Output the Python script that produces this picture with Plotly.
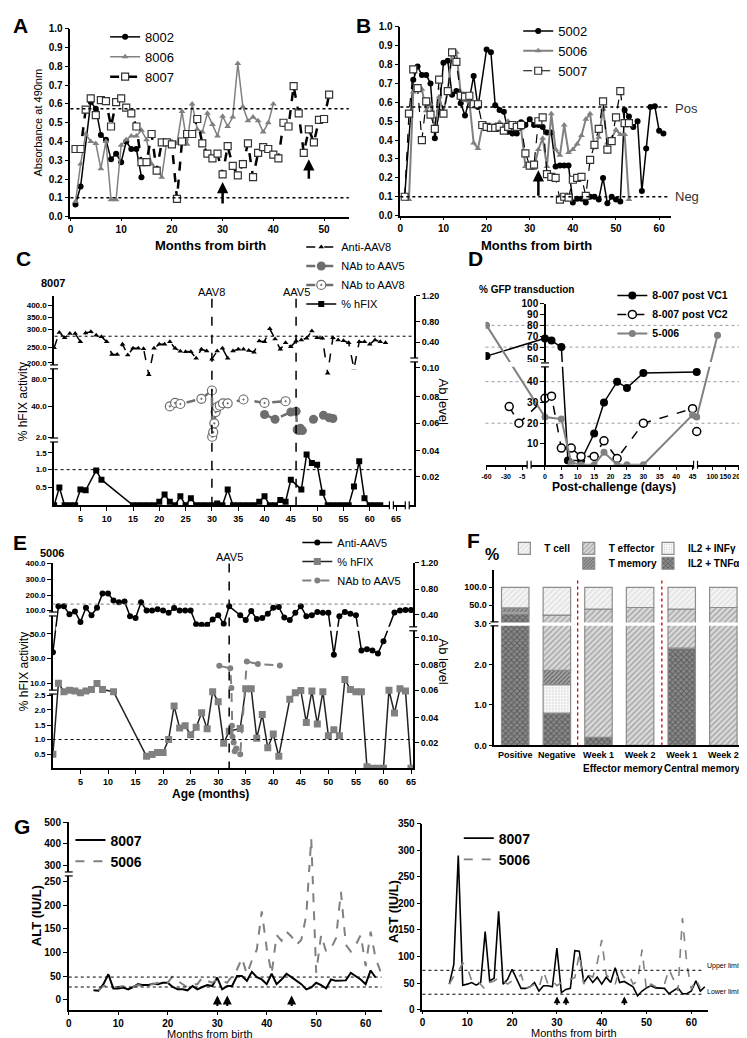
import numpy as np
import plotly.graph_objects as go

W, H = 747, 1038
FONT = "Liberation Sans, Arial, sans-serif"
GRAY = "#808080"

# ---------------- DATA ----------------
# Panel A (absorbance)
A_8002_m = [1, 2, 4, 5, 6, 7, 8, 9, 10, 11, 12, 13, 14]
A_8002_v = [0.065, 0.16, 0.61, 0.575, 0.435, 0.41, 0.305, 0.335, 0.29, 0.40, 0.36, 0.36, 0.21]
A_8006_m = list(range(1, 41))
A_8006_v = [0.08, 0.28, 0.44, 0.40, 0.39, 0.255, 0.40, 0.09, 0.09, 0.38,
            0.41, 0.43, 0.43, 0.46, 0.41, 0.28, 0.255, 0.21, 0.40, 0.40,
            0.39, 0.56, 0.385, 0.60, 0.465, 0.45, 0.55, 0.49, 0.43, 0.535,
            0.48, 0.53, 0.815, 0.585, 0.51, 0.53, 0.51, 0.45, 0.50, 0.60]
A_8007_m = list(range(1, 52))
A_8007_v = [0.36, 0.36, 0.57, 0.63, 0.54, 0.62, 0.615, 0.48, 0.61, 0.63,
            0.58, 0.55, 0.48, 0.29, 0.29, 0.44, 0.245, 0.395, 0.395, 0.385,
            0.095, 0.40, 0.44, 0.44, 0.52, 0.39, 0.335, 0.31, 0.335, 0.225,
            0.375, 0.27, 0.22, 0.28, 0.39, 0.21, 0.34, 0.37, 0.36, 0.33,
            0.31, 0.50, 0.48, 0.695, 0.55, 0.34, 0.465, 0.395, 0.515, 0.52, 0.65]
A_arrows = [30, 47]

# Panel B
B_5002_m = [1] + list(range(3, 19)) + list(range(20, 62))
B_5002_v = [0.10, 0.72, 0.79, 0.745, 0.745, 0.70, 0.41, 0.55, 0.81, 0.82,
            0.64, 0.66, 0.595, 0.53, 0.615, 0.74, 0.575,
            0.88, 0.865, 0.585, 0.56, 0.55, 0.445, 0.435, 0.435, 0.495, 0.48,
            0.51, 0.48, 0.48, 0.47, 0.44, 0.44, 0.26, 0.265, 0.265, 0.265,
            0.07, 0.09, 0.09, 0.07, 0.10, 0.10, 0.085, 0.20, 0.065, 0.10,
            0.085, 0.075, 0.56, 0.525, 0.47, 0.50, 0.13, 0.355, 0.575, 0.58,
            0.45, 0.435]
B_5006_m = list(range(1, 54))
B_5006_v = [0.10, 0.085, 0.655, 0.68, 0.67, 0.555, 0.59, 0.45, 0.63, 0.55,
            0.66, 0.87, 0.865, 0.65, 0.61, 0.605, 0.385, 0.355, 0.47, 0.48,
            0.47, 0.48, 0.495, 0.445, 0.50, 0.46, 0.465, 0.46, 0.26, 0.255,
            0.25, 0.35, 0.41, 0.26, 0.54, 0.35, 0.32, 0.48, 0.335, 0.35,
            0.38, 0.425, 0.51, 0.54, 0.36, 0.415, 0.565, 0.385, 0.41, 0.455,
            0.43, 0.43, 0.085]
B_5007_m = list(range(1, 54))
B_5007_v = [0.10, 0.54, 0.775, 0.675, 0.40, 0.605, 0.535, 0.46, 0.72, 0.54,
            0.66, 0.865, 0.815, 0.635, 0.63, 0.635, 0.59, 0.59, 0.48, 0.47,
            0.465, 0.465, 0.47, 0.45, 0.47, 0.48, 0.47, 0.48, 0.33, 0.265,
            0.27, 0.50, 0.52, 0.22, 0.205, 0.20, 0.085, 0.10, 0.095, 0.19,
            0.20, 0.205, 0.105, 0.295, 0.375, 0.46, 0.605, 0.35, 0.395, 0.52,
            0.66, 0.49, 0.49]
B_arrows = [32]

# Panel C (8007)
C_anti_m = list(range(0, 64))
C_anti_v = [248, 291, 276, 288, 288, 265, 290, 293, 283, 279, 265, 227, 227, 258, 225, 246,
            246, 245, 110, 246, 258, 258, 265, 246, 237, 235, 235, 215, 243, 238, 212, 238,
            246, 215, 238, 243, 243, 239, 234, 267, 265, 302, 273, 243, 262, 251, 267, 270,
            275, 295, 276, 275, 122, 276, 270, 268, 262, 155, 265, 265, 258, 270, 265, 262]
C_nab5_m = [40, 42, 45, 46, 46.2, 46.5, 46.8, 47.2, 49.3, 51.2, 52.3, 53]
C_nab5_v = [30, 24, 33, 34, 11, 10, 13, 10, 24, 29, 26, 25]
C_nab8_m = [22, 23, 24, 28, 30, 30.05, 30.25, 30.45, 30.7, 31.0, 31.5, 32.1, 33, 36, 40, 44]
C_nab8_v = [40, 45, 43.5, 51, 63, 2.4, 8, 19, 33, 39, 41, 44.5, 44.5, 50, 45, 47.5]
C_fix_m = [0, 1, 2, 3, 4, 5, 6, 8, 9, 15, 16, 17, 18, 19, 20, 21, 22, 23, 24, 25, 26, 27, 28,
           29, 30, 31, 32, 33, 34, 35, 36, 37, 38, 39, 40, 41, 42, 43, 44, 45, 47, 48, 49,
           50, 51, 52, 53, 54, 55, 56, 57, 58, 59, 60, 61, 62]
C_fix_v = [0, 0.5, 0, 0, 0, 0.44, 0.42, 0.98, 0.72, 0, 0, 0, 0, 0, 0.1, 0.3, 0.1, 0, 0.25,
           0, 0.2, 0, 0, 0, 0, 0.05, 0, 0.44, 0, 0, 0, 0, 0, 0.1, 0.25, 0, 0, 0.15, 0.1,
           0.72, 0.44, 1.45, 1.2, 1.15, 0.35, 0, 0, 0, 0, 0, 0.53, 1.25, 0.2, 0, 0, 0]
C_vlines = [(30, "AAV8"), (46, "AAV5")]

# Panel D (% GFP transduction)
D_vc1_d = [-60, 0, 2, 5, 7, 11, 15, 18, 22, 25, 30, 48]
D_vc1_v = [53, 68, 66, 60, 2, 2, 15, 30, 40, 37, 44, 44.5]
D_vc2_d = [-25, -10, 0, 2, 5, 8, 11, 15, 18, 22, 30, 45, 48]
D_vc2_v = [28, 20, 32, 33, 8, 8, 4, 4, 11.5, 3, 20, 27, 16]
D_506_d = [-60, 0, 5, 8, 11, 15, 18, 22, 25, 30, 45, 48, 120]
D_506_v = [80, 23, 22, 1, 0, 0, 6, 0, 0, 0, 24, 23, 71]
D_xticks = [-60, -30, -5, 0, 5, 10, 15, 20, 25, 30, 35, 40, 45, 100, 150, 200]
D_yticks = [10, 20, 30, 40, 50, 60, 70, 80, 90, 100]

# Panel E (5006)
E_anti_m = list(range(0, 33)) + list(range(34, 61)) + [62, 63, 64, 65]
E_anti_v = [35, 125, 125, 91, 97, 75, 115, 89, 115, 210, 210, 165, 153, 158, 87, 83, 153,
            99, 99, 105, 99, 94, 113, 99, 99, 99, 70, 69, 69, 80, 89, 71, 125,
            89, 79, 98, 81, 83, 92, 115, 120, 84, 79, 94, 125, 87, 89, 96, 94, 94, 33,
            87, 96, 92, 89, 36.5, 37.5, 36.5, 34, 44, 95, 99, 100, 100]
E_fix_m = [0, 1, 2, 3, 4, 5, 6, 7, 8, 9, 11, 17, 18, 19, 20, 21, 22, 23, 24, 25, 26, 27, 28,
           29, 30, 31, 32, 34, 35, 36, 37, 38, 39, 40, 41, 43, 44, 45, 46, 47, 48, 49, 50,
           51, 52, 53, 54, 55, 56, 57, 58, 59, 60, 61, 62, 63, 64, 65]
E_fix_v = [0.5, 10, 4.6, 5.6, 5.0, 3.9, 5.0, 6.0, 9.8, 6.0, 4.6, 0.43, 0.49, 0.56, 0.56,
           1.0, 2.13, 1.42, 1.5, 1.17, 1.44, 1.91, 1.39, 4.6, 2.27, 0.87, 1.3, 1.4, 6.4,
           6.4, 1.05, 1.85, 0.72, 1.2, 0.43, 2.36, 3.9, 5.4, 1.6, 5.0, 1.55, 4.6, 1.14,
           1.35, 1.14, 13, 6.0, 4.6, 4.6, 0.05, 0, 0, 0, 5.6, 1.9, 6.5, 5.0, 0]
E_nab5_m = [30.2, 32.2, 32.4, 32.5, 32.6, 32.8, 33.0, 33.3, 34.0, 35.2, 37.2, 41.2]
E_nab5_v = [24, 22, 7, 1.5, 1.1, 0.9, 0.6, 0.7, 0.5, 27.6, 25.5, 24.4]

# Panel F (stacked %, cumulative tops of each layer)
F_cats = ["Positive", "Negative", "Week 1", "Week 2", "Week 1", "Week 2"]
F_tnf_top = [28, 0.8, 0.2, 0, 2.4, 0]
F_ifn_top = [33, 1.5, 0.2, 0, 2.4, 0]
F_mem_top = [43, 1.85, 0.2, 0, 2.4, 0]
F_eff_top = [43, 25, 40, 44, 40, 44]
F_tcell_top = [100, 100, 100, 100, 100, 100]

# Panel G (ALT / AST)
G_alt8007_m = list(range(5, 63))
G_alt8007_v = [20, 19, 33, 54, 24, 24, 26, 22, 27, 33, 31, 31, 34, 33, 36, 36, 27, 22, 22, 20,
               29, 22, 27, 31, 29, 47, 22, 29, 29, 50, 50, 40, 59, 48, 43, 33, 55, 33, 43, 55,
               48, 40, 33, 22, 26, 36, 31, 24, 43, 40, 40, 41, 57, 50, 43, 33, 62, 47]
G_alt5006_m = list(range(6, 64))
G_alt5006_v = [20, 29, 29, 27, 27, 29, 27, 27, 31, 29, 33, 33, 36, 40, 36, 50, 40, 33, 26, 33,
               33, 47, 40, 36, 43, 40, 36, 50, 64, 88, 54, 83, 106, 187, 109, 55, 137, 125, 144,
               134, 116, 127, 179, 425, 57, 137, 102, 109, 130, 228, 116, 102, 116, 137, 71,
               144, 88, 60]
G_ast8007_m = list(range(6, 64))
G_ast8007_v = [48, 85, 290, 46, 48, 51, 46, 51, 147, 54, 59, 185, 48, 57, 76, 57, 40, 40, 43,
               51, 35, 45, 45, 43, 116, 32, 38, 40, 111, 110, 51, 63, 51, 61, 48, 61, 51, 79,
               51, 53, 48, 43, 26, 35, 41, 45, 41, 40, 40, 30, 35, 41, 30, 30, 35, 54, 35, 43]
G_ast5006_m = list(range(6, 63))
G_ast5006_v = [48, 63, 72, 88, 80, 54, 57, 48, 38, 51, 54, 60, 54, 48, 54, 57, 66, 40, 43, 48,
               41, 72, 48, 54, 45, 51, 54, 57, 60, 105, 48, 66, 61, 88, 131, 66, 57, 48, 76,
               60, 66, 48, 54, 113, 35, 48, 43, 48, 48, 76, 57, 35, 172, 85, 38, 57, 41]
G_alt_limits = [48, 27]
G_ast_limits = [74, 29]
G_arrows = [30, 32, 45]

# ---------------- AXIS KNOTS (value -> pixel) for broken axes ----------------
C_left = [(0, 497), (0.5, 479), (1.0, 461), (1.5, 444), (2.0, 428), (40, 397), (80, 369),
          (200, 353), (250, 337), (300, 319), (350, 307), (400, 295)]
C_right = [(0, 497), (0.02, 468), (0.04, 442), (0.06, 414), (0.08, 387), (0.10, 358),
           (0.40, 332), (0.80, 311), (1.20, 285)]
E_left = [(0, 763), (0.5, 749), (1.0, 734), (1.5, 720), (2.0, 704), (2.5, 689), (10, 677),
          (30, 652), (50, 627), (100, 603), (200, 588), (300, 572), (400, 556)]
E_right = [(0, 763), (0.02, 737), (0.04, 712), (0.06, 684), (0.08, 658), (0.10, 631),
           (0.40, 608), (0.80, 582), (1.20, 555)]
D_xk = [(-60, 479), (-5, 515), (0, 538), (45, 687), (50, 694), (100, 707), (200, 733)]
D_yk = [(0, 456), (10, 435), (20, 414), (30, 393), (40, 372), (50, 350), (60, 337), (70, 326),
        (80, 315), (90, 304), (100, 293)]
F_k = [(0, 740), (1, 699), (2, 658), (3, 617), (50, 598), (100, 580)]
G_k = [(0, 997.3), (250, 877.7), (300, 861.7), (400, 839.7), (500, 817.7)]


def mp(vals, knots):
    kv = [k[0] for k in knots]
    kp = [k[1] for k in knots]
    return [float(np.interp(v, kv, kp)) for v in vals]


def fx(px):
    return px / W


def fy(py):
    return 1 - py / H


# month -> pixel helpers for decorations
def A_px(m): return 59 + 5.12 * m
def B_px(m): return 392 + 4.355 * m
def C_px(m): return 42.5 + 5.31 * m
def E_px(m): return 41.3 + 5.56 * m
def GL_px(m): return 57.3 + 5.0 * m
def GR_px(m): return 414.3 + 4.53 * m


fig = go.Figure()
shapes = []
ann = []


def txt(s, px, py, size=11, bold=False, xanchor="center", angle=0, color="black"):
    ann.append(dict(text=s, x=fx(px), y=fy(py), xref="paper", yref="paper", showarrow=False,
                    xanchor=xanchor, yanchor="middle", textangle=angle,
                    font=dict(size=size, color=color, family=FONT,
                              weight="bold" if bold else "normal")))


def line(x0, y0, x1, y1, color="black", width=1, dash="solid", layer="above"):
    shapes.append(dict(type="line", xref="paper", yref="paper", x0=fx(x0), y0=fy(y0),
                       x1=fx(x1), y1=fy(y1), line=dict(color=color, width=width, dash=dash),
                       layer=layer))


def rect(x0, y0, x1, y1, color="white"):
    shapes.append(dict(type="rect", xref="paper", yref="paper", x0=fx(x0), y0=fy(y0),
                       x1=fx(x1), y1=fy(y1), line=dict(width=0), fillcolor=color, layer="above"))


def arrow(px, tip, tail, width=2.5):
    ann.append(dict(text="", x=fx(px), y=fy(tip), xref="paper", yref="paper", showarrow=True,
                    ax=0, ay=tail - tip, arrowhead=2, arrowsize=0.9, arrowwidth=width,
                    arrowcolor="black"))


def ybreak(px, py):
    rect(px - 4, py - 2, px + 4, py + 2)
    line(px - 4, py - 2, px + 4, py - 2, width=1.2)
    line(px - 4, py + 2, px + 4, py + 2, width=1.2)


def xbreak(px, py):
    rect(px - 2, py - 4, px + 2, py + 4)
    line(px - 2, py - 4, px - 2, py + 4, width=1.2)
    line(px + 2, py - 4, px + 2, py + 4, width=1.2)


def sc(x, y, xa, ya, name, leg, color, width=1.5, dash="solid", symbol="circle", msize=6,
       mcolor=None, mline=None, mode="lines+markers", show=True):
    fig.add_trace(go.Scatter(
        x=x, y=y, xaxis=xa, yaxis=ya, name=name, legend=leg, showlegend=show, mode=mode,
        line=dict(color=color, width=width, dash=dash),
        marker=dict(symbol=symbol, size=msize, color=mcolor if mcolor else color,
                    line=mline if mline else dict(width=0)),
        hoverinfo="skip"))


# ---------------- Panel A ----------------
sc(A_8002_m, A_8002_v, "x", "y", "8002", "legend", "black", 1.5, symbol="circle", msize=6)
sc(A_8006_m, A_8006_v, "x", "y", "8006", "legend", GRAY, 1.5, symbol="triangle-up", msize=6)
sc(A_8007_m, A_8007_v, "x", "y", "8007", "legend", "black", 2.5, dash="dash", symbol="square",
   msize=7, mcolor="white", mline=dict(color="#333", width=1.2))
for yv in [0.575, 0.1]:
    line(59, 205 - yv * 190, 340, 205 - yv * 190, width=1.5, dash="dot")
for m, (tip, tail) in zip(A_arrows, [(170, 193), (147, 168)]):
    arrow(A_px(m), tip, tail)

# ---------------- Panel B ----------------
sc(B_5002_m, B_5002_v, "x2", "y2", "5002", "legend2", "black", 1.5, symbol="circle", msize=6)
sc(B_5006_m, B_5006_v, "x2", "y2", "5006", "legend2", GRAY, 2, symbol="triangle-up", msize=6)
sc(B_5007_m, B_5007_v, "x2", "y2", "5007", "legend2", "black", 1.2, dash="dash",
   symbol="square", msize=7, mcolor="white", mline=dict(color="#333", width=1.2))
for yv in [0.575, 0.1]:
    line(392, 204 - yv * 191, 663, 204 - yv * 191, width=1.5, dash="dot")
for m in B_arrows:
    arrow(B_px(m), 158, 185)
txt("Pos", 667, 96, size=13, xanchor="left", color="#333")
txt("Neg", 667, 185, size=13, xanchor="left", color="#333")

# ---------------- Panel C ----------------
sc(C_anti_m, mp(C_anti_v, C_left), "x3", "y3", "Anti-AAV8", "legend3", "black", 1.5,
   dash="dash", symbol="triangle-up", msize=5)
sc(C_nab5_m, mp(C_nab5_v, C_left), "x3", "y3", "NAb to AAV5", "legend3", "#6e6e6e", 2.5,
   dash="dash", symbol="circle", msize=9)
sc(C_nab8_m, mp(C_nab8_v, C_left), "x3", "y3", "NAb to AAV8", "legend3", "#6e6e6e", 2.5,
   dash="dash", symbol="circle-dot", msize=9, mcolor="white",
   mline=dict(color="#6e6e6e", width=1.2))
sc(C_fix_m, mp(C_fix_v, C_left), "x3", "y3", "% hFIX", "legend3", "black", 1.5,
   symbol="square", msize=6)
fig.add_trace(go.Scatter(x=[None], y=[None], xaxis="x3", yaxis="y4", showlegend=False))
line(43, 326, 406, 326, width=1, dash="dot")
line(43, 461, 406, 461, width=1, dash="dot")
for m, lab in C_vlines:
    line(C_px(m), 288, C_px(m), 497, width=1.5, dash="dash")
    txt(lab, C_px(m), 281, size=11)
rect(44, 356, 404, 360)   # white break band across the plot
txt("8007", 41, 272, size=11, bold=True)
txt("% hFIX activity", 12, 392, size=12, angle=-90)
txt("Ab level", 436, 392, size=13, angle=90)
ybreak(42.5, 357)
ybreak(42.5, 431)
ybreak(406, 350)
xbreak(383, 497)
xbreak(399, 497)

# ---------------- Panel D ----------------
sc(mp(D_vc1_d, D_xk), mp(D_vc1_v, D_yk), "x4", "y5", "8-007 post VC1", "legend4", "black",
   1.5, symbol="circle", msize=8)
sc(mp(D_vc2_d, D_xk), mp(D_vc2_v, D_yk), "x4", "y5", "8-007 post VC2", "legend4", "black",
   1.5, dash="dash", symbol="circle", msize=8, mcolor="white",
   mline=dict(color="black", width=1.5))
sc(mp(D_506_d, D_xk), mp(D_506_v, D_yk), "x4", "y5", "5-006", "legend4", GRAY, 2,
   symbol="circle", msize=7)
for gv in [20, 40, 60, 80]:
    gp = mp([gv], D_yk)[0]
    line(478, gp, 738, gp, color="#999", width=1, dash="dot", layer="below")
rect(480, 352, 737, 357)
txt("% GFP transduction", 519, 279, size=10, bold=True)
txt("Post-challenge (days)", 608, 479, size=12, bold=True)
xbreak(522, 456)
xbreak(690, 456)
ybreak(538, 355)

# ---------------- Panel E ----------------
sc(E_anti_m, mp(E_anti_v, E_left), "x5", "y6", "Anti-AAV5", "legend5", "black", 1.5,
   symbol="circle", msize=6)
sc(E_fix_m, mp(E_fix_v, E_left), "x5", "y6", "% hFIX", "legend5", "#222", 1.5,
   symbol="square", msize=7, mcolor=GRAY)
sc(E_nab5_m, mp(E_nab5_v, E_left), "x5", "y6", "NAb to AAV5", "legend5", GRAY, 2,
   dash="dash", symbol="circle", msize=6)
fig.add_trace(go.Scatter(x=[None], y=[None], xaxis="x5", yaxis="y7", showlegend=False))
line(41, 597, 405, 597, color="#777", width=1, dash="dot")
line(41, 734, 405, 734, width=1, dash="dot")
line(E_px(32), 556, E_px(32), 763, width=1.5, dash="dash")
rect(44, 620, 402, 624)
txt("AAV5", E_px(32), 549, size=11)
txt("5006", 40, 545, size=11, bold=True)
txt("% hFIX activity", 12, 665, size=12, angle=-90)
txt("Ab level", 436, 655, size=13, angle=90)
txt("Age (months)", 200, 789, size=12, bold=True)
ybreak(41.3, 607)
ybreak(41.3, 686)
ybreak(405, 622)

# ---------------- Panel F ----------------
F_layers = [
    ("IL2 + TNF\u03b1", [0] * 6, F_tnf_top, dict(shape="x", fgcolor="#2a2a2a", bgcolor="#8a8a8a", size=4, solidity=0.45), "legend12"),
    ("IL2 + INF\u03b3", F_tnf_top, F_ifn_top, dict(shape=".", fgcolor="#9a9a9a", bgcolor="#ffffff", size=3, solidity=0.3), "legend10"),
    ("T memory", F_ifn_top, F_mem_top, dict(shape="/", fgcolor="#2a2a2a", bgcolor="#a8a8a8", size=3, solidity=0.45), "legend11"),
    ("T effector", F_mem_top, F_eff_top, dict(shape="/", fgcolor="#6a6a6a", bgcolor="#dadada", size=4, solidity=0.35), "legend9"),
    ("T cell", F_eff_top, F_tcell_top, dict(shape="/", fgcolor="#c4c4c4", bgcolor="#f4f4f4", size=4, solidity=0.3), "legend8"),
]
F_x = list(range(len(F_cats)))
for name, lo, hi, pat, leg in F_layers:
    lo_p = mp(lo, F_k)
    hi_p = mp(hi, F_k)
    hts = [(h - l) if abs(h - l) > 0.01 else None for l, h in zip(lo_p, hi_p)]
    fig.add_trace(go.Bar(x=F_x, y=hts, base=lo_p, xaxis="x6", yaxis="y8", name=name,
                         legend=leg, width=0.66,
                         marker=dict(color=pat["bgcolor"], pattern=pat,
                                     line=dict(color="#8c8c8c", width=1.2)),
                         hoverinfo="skip"))
rect(488, 615.5, 742, 619)
ybreak(487, 617)
for xp in [571, 656]:
    line(xp, 573, xp, 740, color="#cc0000", width=1.3, dash="dot")
txt("%", 485, 547, size=16, bold=True)
txt("Effector memory", 617, 763, size=10, bold=True)
txt("Central memory", 697, 763, size=10, bold=True)

# ---------------- Panel G ----------------
sc(G_alt8007_m, mp(G_alt8007_v, G_k), "x7", "y9", "8007", "legend6", "black", 2, mode="lines")
sc(G_alt5006_m, mp(G_alt5006_v, G_k), "x7", "y9", "5006", "legend6", GRAY, 2, dash="dash",
   mode="lines")
for lv in G_alt_limits:
    lp = mp([lv], G_k)[0]
    line(57.3, lp, 373, lp, width=1, dash="dot")
rect(59, 868, 372, 872)
for m in G_arrows:
    arrow(GL_px(m), 993, 1005, width=2)
txt("ALT (IU/L)", 25, 912, size=13, bold=True, angle=-90)
txt("Months from birth", 200, 1032, size=11)
ybreak(57.3, 870)

sc(G_ast8007_m, G_ast8007_v, "x8", "y10", "8007", "legend7", "black", 1.6, mode="lines")
sc(G_ast5006_m, G_ast5006_v, "x8", "y10", "5006", "legend7", GRAY, 1.6, dash="dash",
   mode="lines")
for lv in G_ast_limits:
    lp = 1007.3 - lv * (188.3 / 350)
    line(414.3, lp, 699, lp, width=1, dash="dot")
txt("Upper limit", 700, 1007.3 - G_ast_limits[0] * (188.3 / 350) - 4, size=7, xanchor="left")
txt("Lower limit", 700, 1007.3 - G_ast_limits[1] * (188.3 / 350) - 3, size=7, xanchor="left")
for m in G_arrows:
    arrow(GR_px(m), 994, 1004, width=1.5)
txt("AST (IU/L)", 385, 908, size=13, bold=True, angle=-90)
txt("Months from birth", 567, 1031, size=11)

# Panel letters
for L, px, py in [("A", 9, 12), ("B", 355, 12), ("C", 12, 247), ("D", 468, 247),
                  ("E", 8, 535), ("F", 466, 533), ("G", 10, 822)]:
    txt(L, px, py, size=21, bold=True)
txt("Months from birth", 200, 234, size=13, bold=True)
txt("Months from birth", 529, 234, size=13, bold=True)
txt("Absorbance at 490nm", 26, 110, size=11, angle=-90)


# ---------------- AXES ----------------
def ax(dom, rng, vertical=False, fsize=10, **kw):
    d = dict(showline=True, linecolor="black", linewidth=1.5, ticks="outside", ticklen=4,
             tickwidth=1.2, tickcolor="black", showgrid=False, zeroline=False,
             tickfont=dict(family=FONT, size=fsize, color="black", weight="bold"),
             range=rng, fixedrange=True)
    if vertical:
        d["domain"] = [fy(dom[1]), fy(dom[0])]
    else:
        d["domain"] = [fx(dom[0]), fx(dom[1])]
    d.update(kw)
    return d


def kt(knots, fmt, skip0=True):
    vals = [k for k in knots if not (skip0 and k[0] == 0)]
    return dict(tickmode="array", tickvals=[k[1] for k in vals],
                ticktext=[fmt.format(k[0]) for k in vals])


lay = dict(
    width=W, height=H, margin=dict(l=0, r=0, t=0, b=0), paper_bgcolor="white",
    plot_bgcolor="rgba(0,0,0,0)", font=dict(family=FONT, color="black"),
    barmode="overlay", showlegend=True,
)
lay["xaxis"] = ax([59, 340.6], [0, 55], anchor="y", ticklen=3, tickvals=[0, 10, 20, 30, 40, 50])
lay["yaxis"] = ax([15, 205], [0, 1], True, anchor="x", dtick=0.1, tickformat=".1f")
lay["xaxis2"] = ax([392, 665], [0, 62.7], anchor="y2", ticklen=3,
                   tickvals=[0, 10, 20, 30, 40, 50, 60])
lay["yaxis2"] = ax([13, 204], [0, 1], True, anchor="x2", dtick=0.1, tickformat=".1f")

lay["xaxis3"] = ax([42.5, 406], [0, 68.45], anchor="y3", fsize=9,
                   tickvals=[5, 10, 15, 20, 25, 30, 35, 40, 45, 50, 55, 60, 65])
lay["yaxis3"] = ax([285, 497], [497, 285], True, anchor="x3", fsize=8,
                   **kt(C_left, "{:.1f}"))
lay["yaxis4"] = ax([285, 497], [497, 285], True, anchor="x3", overlaying="y3", side="right",
                   fsize=9, **kt(C_right, "{:.2f}"))

lay["xaxis4"] = ax([478, 738], [478, 738], anchor="y5", fsize=7, tickangle=0, tickmode="array",
                   tickvals=mp(D_xticks, D_xk), ticktext=[str(t) for t in D_xticks])
lay["yaxis5"] = ax([293, 456], [456, 293], True, anchor="free", position=fx(538), fsize=10,
                   tickmode="array", tickvals=mp(D_yticks, D_yk),
                   ticktext=[str(t) for t in D_yticks])

lay["xaxis5"] = ax([41.3, 405], [0, 65.4], anchor="y6", fsize=9,
                   tickvals=[5, 10, 15, 20, 25, 30, 35, 40, 45, 50, 55, 60, 65])
lay["yaxis6"] = ax([555, 763], [763, 555], True, anchor="x5", fsize=8, **kt(E_left, "{:.1f}"))
lay["yaxis7"] = ax([555, 763], [763, 555], True, anchor="x5", overlaying="y6", side="right",
                   fsize=9, **kt(E_right, "{:.2f}"))

lay["xaxis6"] = ax([487, 742], [-0.5, 5.57], anchor="y8", fsize=9, ticks="", tickmode="array",
                   tickvals=F_x, ticktext=F_cats)
lay["yaxis8"] = ax([562, 740], [740, 562], True, anchor="x6", fsize=9,
                   **kt(F_k, "{:.1f}", skip0=False))

lay["xaxis7"] = ax([57.3, 373], [0, 63.2], anchor="y9", fsize=10, ticklen=3,
                   tickvals=[0, 10, 20, 30, 40, 50, 60])
lay["yaxis9"] = ax([817, 1008], [1008, 817], True, anchor="x7", fsize=10,
                   tickmode="array",
                   tickvals=mp([0, 50, 100, 150, 200, 250, 300, 400, 500], G_k),
                   ticktext=["0", "50", "100", "150", "200", "250", "300", "400", "500"])
lay["xaxis8"] = ax([414.3, 703], [0, 63.8], anchor="y10", fsize=10, ticklen=3,
                   tickvals=[0, 10, 20, 30, 40, 50, 60])
lay["yaxis10"] = ax([819, 1007.3], [0, 350], True, anchor="x8", fsize=10, dtick=50)


def leg(text_x, first_y, size, bold=False):
    # plotly places entry text ~46px right of the legend's left edge and the first entry
    # centre ~22px below its top edge
    return dict(x=fx(text_x - 46), y=fy(first_y - 22), xref="paper", yref="paper",
                xanchor="left", yanchor="top", bgcolor="rgba(0,0,0,0)", borderwidth=0,
                tracegroupgap=0, itemwidth=30,
                font=dict(family=FONT, size=size, color="black",
                          weight="bold" if bold else "normal"))


lay["legend"] = leg(140, 30, 13)
lay["legend2"] = leg(557, 24, 13)
lay["legend3"] = leg(338, 243, 11)
lay["legend4"] = leg(652, 292, 10.5, bold=True)
lay["legend5"] = leg(334, 542, 11)
lay["legend6"] = leg(105, 842, 14, bold=True)
lay["legend7"] = leg(497, 840, 14, bold=True)
lay["legend8"] = leg(543, 548, 10, bold=True)
lay["legend9"] = leg(608, 548, 10, bold=True)
lay["legend10"] = leg(688, 548, 10, bold=True)
lay["legend11"] = leg(608, 563, 10, bold=True)
lay["legend12"] = leg(688, 563, 10, bold=True)

lay["shapes"] = shapes
lay["annotations"] = ann
fig.update_layout(**lay)
fig.write_html("out.html")
